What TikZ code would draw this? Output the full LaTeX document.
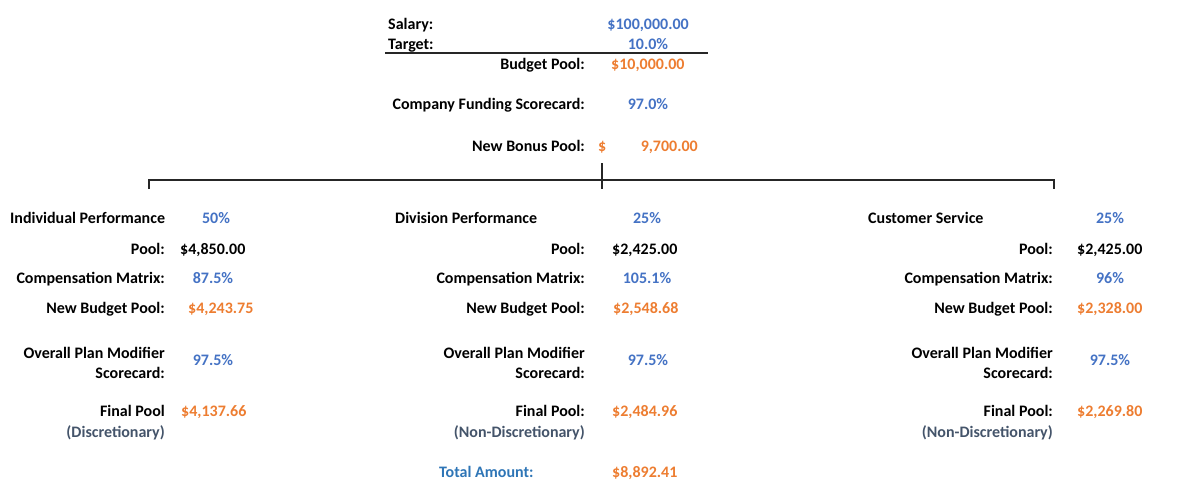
\documentclass[tikz,border=0pt]{standalone}
\usepackage{fontspec}
\setmainfont{Carlito}
\usepackage{tikz}
\usetikzlibrary{positioning}
\definecolor{valblue}{HTML}{4472C4}
\definecolor{valorange}{HTML}{ED7D31}
\definecolor{notegray}{HTML}{44546A}
\definecolor{totalblue}{HTML}{2E75B6}
\newcommand{\sheetfont}{\fontsize{16}{20}\selectfont\bfseries}
\tikzstyle{lbl}=[%
      anchor=mid east, inner sep=0pt, font=\sheetfont, text=black, align=right, yshift=-3pt
]
\tikzstyle{head}=[%
      anchor=mid west, inner sep=0pt, font=\sheetfont, text=black, yshift=-3pt
]
\tikzstyle{pct}=[%
      anchor=mid, inner sep=0pt, font=\sheetfont, text=valblue, yshift=-3pt
]
\tikzstyle{amt}=[%
      anchor=mid west, inner sep=0pt, font=\sheetfont, text=valorange, yshift=-3pt
]
\tikzstyle{plain}=[%
      anchor=mid west, inner sep=0pt, font=\sheetfont, text=black, yshift=-3pt
]
\tikzstyle{note}=[%
      anchor=mid east, inner sep=0pt, font=\sheetfont, text=notegray, yshift=-3pt
]
\tikzstyle{twoline}=[%
      anchor=east, yshift=0pt
]
\tikzstyle{bar}=[%
      draw=black!85, line width=2pt
]

\begin{document}
\begin{tikzpicture}[x=1pt, y=-1pt]
    \useasboundingbox (0,0) rectangle (1200,495);

    % salary and target
    \node[head]                   (salary)     at (388,24)  {Salary:};
    \node[pct, anchor=mid east]   (salaryval)  at (689,24)  {\$100,000.00};
    \node[head]                   (target)     at (388,44)  {Target:};
    \node[pct]                    (targetval)  at (648,44)  {10.0\%};
    \coordinate (ruleL) at (385,53);
    \coordinate (ruleR) at (708,53);
    \draw[bar] (ruleL) -- (ruleR);

    \node[lbl]                    (budget)     at (585,64)  {Budget Pool:};
    \node[amt]                    (budgetval)  at (611,64)  {\$10,000.00};
    \node[lbl]                    (funding)    at (585,104) {Company Funding Scorecard:};
    \node[pct]                    (fundingval) at (648,104) {97.0\%};
    \node[lbl]                    (bonus)      at (585,146) {New Bonus Pool:};
    \node[amt]                    (bonusdol)   at (598,146) {\$};
    \node[amt, anchor=mid east]   (bonusval)   at (698,146) {9,700.00};

    % bracket
    \coordinate (stemtop) at (602,163);
    \coordinate (stembot) at (602,189);
    \coordinate (barL)    at (149,180);
    \coordinate (barR)    at (1054,180);
    \coordinate (tickL)   at (149,189);
    \coordinate (tickR)   at (1054,189);
    \draw[bar] (tickL) -- (barL) -- (barR) -- (tickR);
    \draw[bar] (stemtop) -- (stembot);

    % individual performance
    \node[head]  (ind)        at (10,218)  {Individual Performance};
    \node[pct]   (indpct)     at (216,218) {50\%};
    \node[lbl]   (indpool)    at (165,249) {Pool:};
    \node[plain] (indpoolval) at (180,249) {\$4,850.00};
    \node[lbl]   (indcomp)    at (165,278) {Compensation Matrix:};
    \node[pct]   (indcompval) at (213,278) {87.5\%};
    \node[lbl]   (indnew)     at (165,308) {New Budget Pool:};
    \node[amt]   (indnewval)  at (188,308) {\$4,243.75};
    \node[lbl, twoline] (indopm) at (165,360) {Overall Plan Modifier\\Scorecard:};
    \node[pct]   (indopmval)  at (213,360) {97.5\%};
    \node[lbl]   (indfin)     at (165,411) {Final Pool};
    \node[amt]   (indfinval)  at (181,411) {\$4,137.66};
    \node[note]  (indnote)    at (165,432) {(Discretionary)};

    % division performance
    \node[head]  (div)        at (395,218) {Division Performance};
    \node[pct]   (divpct)     at (647,218) {25\%};
    \node[lbl]   (divpool)    at (585,249) {Pool:};
    \node[plain] (divpoolval) at (612,249) {\$2,425.00};
    \node[lbl]   (divcomp)    at (585,278) {Compensation Matrix:};
    \node[pct]   (divcompval) at (647,278) {105.1\%};
    \node[lbl]   (divnew)     at (585,308) {New Budget Pool:};
    \node[amt]   (divnewval)  at (613,308) {\$2,548.68};
    \node[lbl, twoline] (divopm) at (585,360) {Overall Plan Modifier\\Scorecard:};
    \node[pct]   (divopmval)  at (648,360) {97.5\%};
    \node[lbl]   (divfin)     at (585,411) {Final Pool:};
    \node[amt]   (divfinval)  at (612,411) {\$2,484.96};
    \node[note]  (divnote)    at (585,432) {(Non-Discretionary)};
    \node[head, text=totalblue] (total)    at (439,472) {Total Amount:};
    \node[amt]   (totalval)   at (612,472) {\$8,892.41};

    % customer service
    \node[head]  (cs)         at (868,218)  {Customer Service};
    \node[pct]   (cspct)      at (1110,218) {25\%};
    \node[lbl]   (cspool)     at (1053,249) {Pool:};
    \node[plain] (cspoolval)  at (1077,249) {\$2,425.00};
    \node[lbl]   (cscomp)     at (1053,278) {Compensation Matrix:};
    \node[pct]   (cscompval)  at (1110,278) {96\%};
    \node[lbl]   (csnew)      at (1053,308) {New Budget Pool:};
    \node[amt]   (csnewval)   at (1077,308) {\$2,328.00};
    \node[lbl, twoline] (csopm) at (1053,360) {Overall Plan Modifier\\Scorecard:};
    \node[pct]   (csopmval)   at (1110,360) {97.5\%};
    \node[lbl]   (csfin)      at (1053,411) {Final Pool:};
    \node[amt]   (csfinval)   at (1077,411) {\$2,269.80};
    \node[note]  (csnote)     at (1053,432) {(Non-Discretionary)};

  \end{tikzpicture}
\end{document}
